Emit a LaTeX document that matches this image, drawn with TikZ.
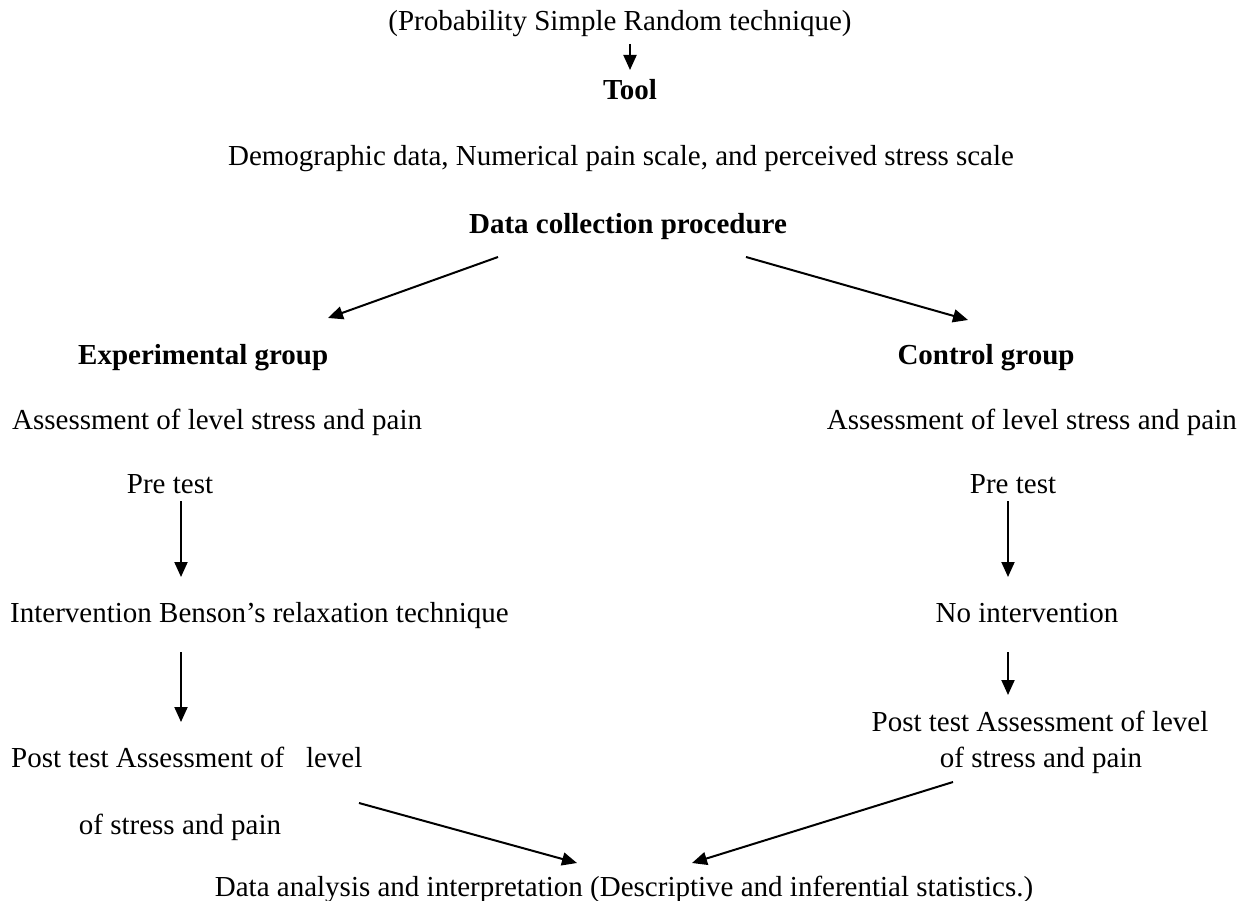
\documentclass[tikz,border=0pt]{standalone}
\usepackage{fontspec}
\setmainfont{Liberation Serif}
\usetikzlibrary{arrows.meta}
\begin{document}
\begin{tikzpicture}[x=1pt,y=-1pt,
  txt/.style={inner sep=0pt,anchor=base,font=\fontsize{29}{33}\selectfont},
  btxt/.style={txt,font=\fontsize{29}{33}\selectfont\bfseries},
  arr/.style={line width=2pt,-{Triangle[length=15pt,width=13pt]}}]
\useasboundingbox (0,0) rectangle (1239,901);
\fill[white] (0,0) rectangle (1239,901);
\node[txt] (prob) at (620,31) {(Probability Simple Random technique)};
\node[btxt] (tool) at (630,100) {Tool};
\node[txt] (demo) at (621,166) {Demographic data, Numerical pain scale, and perceived stress scale};
\node[btxt] (dcp) at (628,234) {Data collection procedure};
\node[btxt,anchor=base west] (exp) at (78,364) {Experimental group};
\node[btxt] (ctl) at (986,364) {Control group};
\node[txt,anchor=base west] (ea) at (12,429) {Assessment of level stress and pain};
\node[txt,anchor=base east] (ca) at (1237,429) {Assessment of level stress and pain};
\node[txt] (ep) at (170,493) {Pre test};
\node[txt] (cp) at (1013,493) {Pre test};
\node[txt,anchor=base west] (ei) at (10,622) {Intervention Benson’s relaxation technique};
\node[txt] (ci) at (1027,622) {No intervention};
\node[txt,anchor=base west] (ept1) at (11,767) {Post test Assessment of \ \ level};
\node[txt] (ept2) at (180,834) {of stress and pain};
\node[txt] (cpt1) at (1040,731) {Post test Assessment of level};
\node[txt] (cpt2) at (1041,767) {of stress and pain};
\node[txt] (da) at (624,896) {Data analysis and interpretation (Descriptive and inferential statistics.)};
% connector end points
\coordinate (a0s) at (630,44); \coordinate (a0e) at (630,70);
\coordinate (dl) at (498,257); \coordinate (el) at (328,318);
\coordinate (dr) at (746,257); \coordinate (er) at (968,320);
\coordinate (e1s) at (181,501); \coordinate (e1e) at (181,577);
\coordinate (c1s) at (1008,501); \coordinate (c1e) at (1008,577);
\coordinate (e2s) at (181,652); \coordinate (e2e) at (181,722);
\coordinate (c2s) at (1008,652); \coordinate (c2e) at (1008,695);
\coordinate (fl) at (359,803); \coordinate (tl) at (577,863);
\coordinate (fr) at (953,782); \coordinate (tr) at (692,863);
\draw[arr] (a0s) -- (a0e);
\draw[arr] (dl) -- (el);
\draw[arr] (dr) -- (er);
\draw[arr] (e1s) -- (e1e);
\draw[arr] (c1s) -- (c1e);
\draw[arr] (e2s) -- (e2e);
\draw[arr] (c2s) -- (c2e);
\draw[arr] (fl) -- (tl);
\draw[arr] (fr) -- (tr);
\end{tikzpicture}
\end{document}
